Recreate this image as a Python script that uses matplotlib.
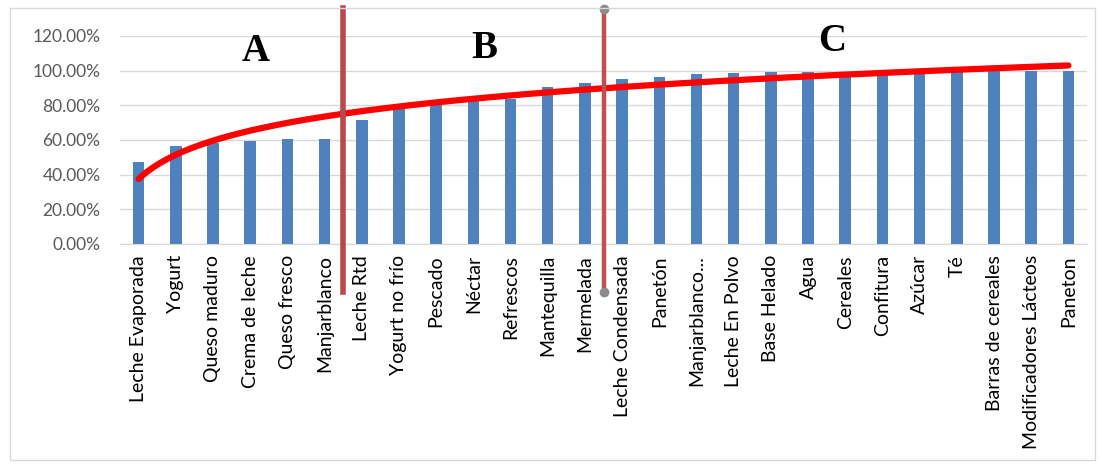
import numpy as np
import matplotlib
matplotlib.use("Agg")
import matplotlib.pyplot as plt
from matplotlib.patches import Rectangle

categories = ["Leche Evaporada", "Yogurt", "Queso maduro", "Crema de leche", "Queso fresco",
              "Manjarblanco", "Leche Rtd", "Yogurt no frío", "Pescado", "Néctar", "Refrescos",
              "Mantequilla", "Mermelada", "Leche Condensada", "Panetón", "Manjarblanco...",
              "Leche En Polvo", "Base Helado", "Agua", "Cereales", "Confitura", "Azúcar", "Té",
              "Barras de cereales", "Modificadores Lácteos", "Paneton"]
values = [0.473, 0.567, 0.580, 0.595, 0.603, 0.603, 0.715, 0.784, 0.801, 0.830, 0.836,
          0.905, 0.928, 0.951, 0.963, 0.980, 0.986, 0.991, 0.993, 0.995, 0.996, 0.997,
          0.998, 0.999, 1.000, 1.000]
yticks = [0.0, 0.2, 0.4, 0.6, 0.8, 1.0, 1.2]
ytick_labels = ["0.00%", "20.00%", "40.00%", "60.00%", "80.00%", "100.00%", "120.00%"]
zones = ["A", "B", "C"]
zone_x = [3.15, 9.3, 18.65]
zone_y = [1.11, 1.125, 1.17]
cut_positions = [5.5, 12.5]

fig = plt.figure(figsize=(11, 4.66), dpi=100)
fig.patches.append(Rectangle((10/1100, 6/466), 1085/1100, 452/466, transform=fig.transFigure,
                             fill=False, edgecolor="#D9D9D9", linewidth=1))
ax = fig.add_axes([120/1100, 222/466, 967/1100, 208/466])
x = np.arange(len(categories))
ax.bar(x, values, width=0.31, color="#4F81BD", zorder=2)

# logarithmic trendline (least squares on ln(x))
lx = np.log(x + 1)
b, a = np.polyfit(lx, values, 1)
xs = np.linspace(0, len(categories) - 1, 300)
ax.plot(xs, a + b * np.log(xs + 1), color="#FF0000", linewidth=4.5, zorder=3, solid_capstyle="round")

ax.set_xlim(-0.5, len(categories) - 0.5)
ax.set_ylim(0, 1.2)
ax.set_yticks(yticks)
ax.set_yticklabels(ytick_labels, fontsize=12.5, color="#595959", family="Lato")
ax.set_xticks(x)
ax.set_xticklabels(categories, rotation=90, fontsize=14, family="Lato", color="#000000")
ax.tick_params(axis="x", length=0, pad=8)
ax.tick_params(axis="y", length=0, pad=14)
ax.grid(axis="y", color="#D9D9D9", linewidth=1, zorder=0)
for s in ["top", "right", "left"]:
    ax.spines[s].set_visible(False)
ax.spines["bottom"].set_color("#D9D9D9")

# zone separators
ax.axvline(cut_positions[0], ymin=-0.23, ymax=1.135, color="#B5494B", linewidth=4, clip_on=False, zorder=4)
ax.axvline(cut_positions[1], ymin=-0.23, ymax=1.13, color="#C0504D", linewidth=3.2, clip_on=False, zorder=4)
ax.plot([cut_positions[1], cut_positions[1]], [1.2 * 1.13, 1.2 * -0.23], "o", color="#8C8C8C",
        markersize=6, clip_on=False, zorder=5)

for z, zx, zy in zip(zones, zone_x, zone_y):
    ax.text(zx, zy, z, fontsize=28, fontweight="bold", family="Liberation Serif",
            ha="center", va="center", zorder=5)

fig.savefig("out.png", dpi=100)
